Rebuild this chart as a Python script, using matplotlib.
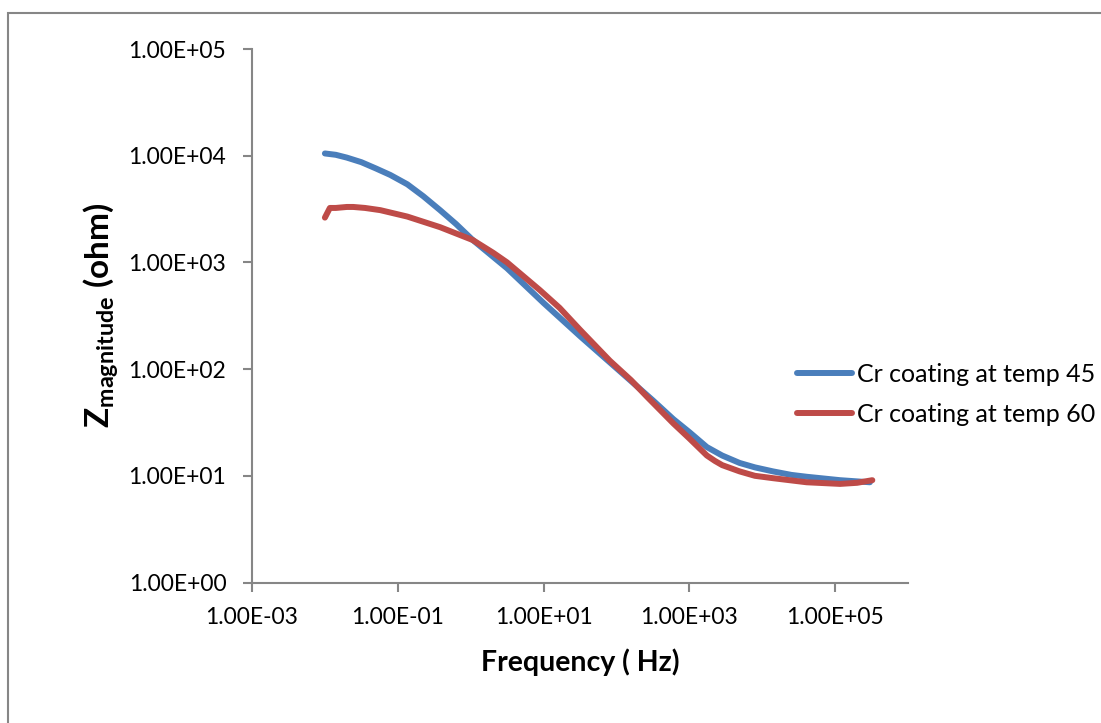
import matplotlib.pyplot as plt
from matplotlib.patches import Rectangle
from matplotlib.ticker import FixedLocator, FuncFormatter, NullLocator

# Impedance magnitude vs frequency for two coating temperatures
freq_45 = [1.00e-2, 1.41e-2, 2.0e-2, 3.16e-2, 5.0e-2, 7.9e-2, 0.135, 0.224,
           0.38, 0.63, 1.07, 3.16, 10, 31.6, 100, 316, 603, 1000, 1740, 2820,
           4900, 7940, 1.41e4, 2.51e4, 4.07e4, 1.17e5, 3.0e5]
zmag_45 = [1.05e4, 1.02e4, 9.6e3, 8.7e3, 7.6e3, 6.6e3, 5.4e3, 4.17e3,
           3.09e3, 2.29e3, 1.62e3, 880, 417, 204, 102, 51, 34.0, 25.7, 18.6,
           15.5, 13.2, 12.0, 11.0, 10.2, 9.8, 9.1, 8.7]

freq_60 = [1.0e-2, 1.17e-2, 1.41e-2, 2.0e-2, 2.45e-2, 3.55e-2, 5.75e-2, 0.135,
           0.38, 1.07, 2.04, 3.16, 8.9, 16.6, 31.6, 81, 158, 263, 603, 1000,
           1740, 2240, 2820, 4900, 7940, 1.41e4, 4.07e4, 1.17e5, 2.0e5, 3.24e5]
zmag_60 = [2.63e3, 3.24e3, 3.24e3, 3.31e3, 3.31e3, 3.24e3, 3.09e3, 2.69e3,
           2.14e3, 1.62e3, 1.23e3, 1.0e3, 550, 375, 234, 120, 79, 55, 31.0,
           22.4, 15.5, 13.8, 12.6, 11.0, 10.0, 9.5, 8.7, 8.4, 8.6, 9.1]

labels = ["Cr coating at temp 45", "Cr coating at temp 60"]
colors = ["#4A7EBB", "#BE4B48"]
x_ticks = [1e-3, 1e-1, 1e1, 1e3, 1e5]
y_ticks = [1e0, 1e1, 1e2, 1e3, 1e4, 1e5]

plt.rcParams['font.family'] = ['Lato', 'DejaVu Sans']
plt.rcParams['mathtext.fontset'] = 'custom'
plt.rcParams['mathtext.bf'] = 'Lato:bold'
plt.rcParams['mathtext.rm'] = 'Lato'

fig = plt.figure(figsize=(11.01, 7.23), dpi=100)
ax = fig.add_axes([0.2289, 0.1943, 0.5958, 0.7379])

for f, z, c, lab in [(freq_45, zmag_45, colors[0], labels[0]),
                     (freq_60, zmag_60, colors[1], labels[1])]:
    ax.plot(f, z, color=c, lw=4.3, solid_capstyle='round',
            solid_joinstyle='round', label=lab)

ax.set_xscale('log')
ax.set_yscale('log')
ax.set_xlim(1e-3, 1e6)
ax.set_ylim(1e0, 1e5)

ax.xaxis.set_major_locator(FixedLocator(x_ticks))
ax.yaxis.set_major_locator(FixedLocator(y_ticks))
ax.xaxis.set_minor_locator(NullLocator())
ax.yaxis.set_minor_locator(NullLocator())
fmt = FuncFormatter(lambda v, p: f"{v:.2E}")
ax.xaxis.set_major_formatter(fmt)
ax.yaxis.set_major_formatter(fmt)

grey = "#868686"
for side in ['top', 'right']:
    ax.spines[side].set_visible(False)
for side in ['left', 'bottom']:
    ax.spines[side].set_color(grey)
    ax.spines[side].set_linewidth(1.5)
ax.tick_params(axis='both', direction='out', length=6.5, width=1.5, color=grey,
               labelsize=16.5, labelcolor='black')
ax.tick_params(axis='x', pad=11)
ax.tick_params(axis='y', pad=12)

ax.set_xlabel("Frequency ( Hz)", fontsize=20.5, fontweight='bold', labelpad=15)
ax.set_ylabel(r"$\mathbf{Z}_{\mathbf{magnitude}}$ (ohm)", fontsize=24,
              fontweight='bold', labelpad=5)

ax.legend(loc='center left', bbox_to_anchor=(797 / 1101, 0.4544),
          bbox_transform=fig.transFigure, frameon=False, fontsize=18,
          handlelength=2.2, handletextpad=0.2, labelspacing=0.68,
          borderpad=0, borderaxespad=0)

# chart area outline
fig.patches.append(Rectangle((8 / 1101, -0.05), 1.1, 1.05 - 13 / 723,
                             transform=fig.transFigure, fill=False,
                             edgecolor=grey, lw=1.5, clip_on=False))

fig.savefig("out.png", dpi=100)
